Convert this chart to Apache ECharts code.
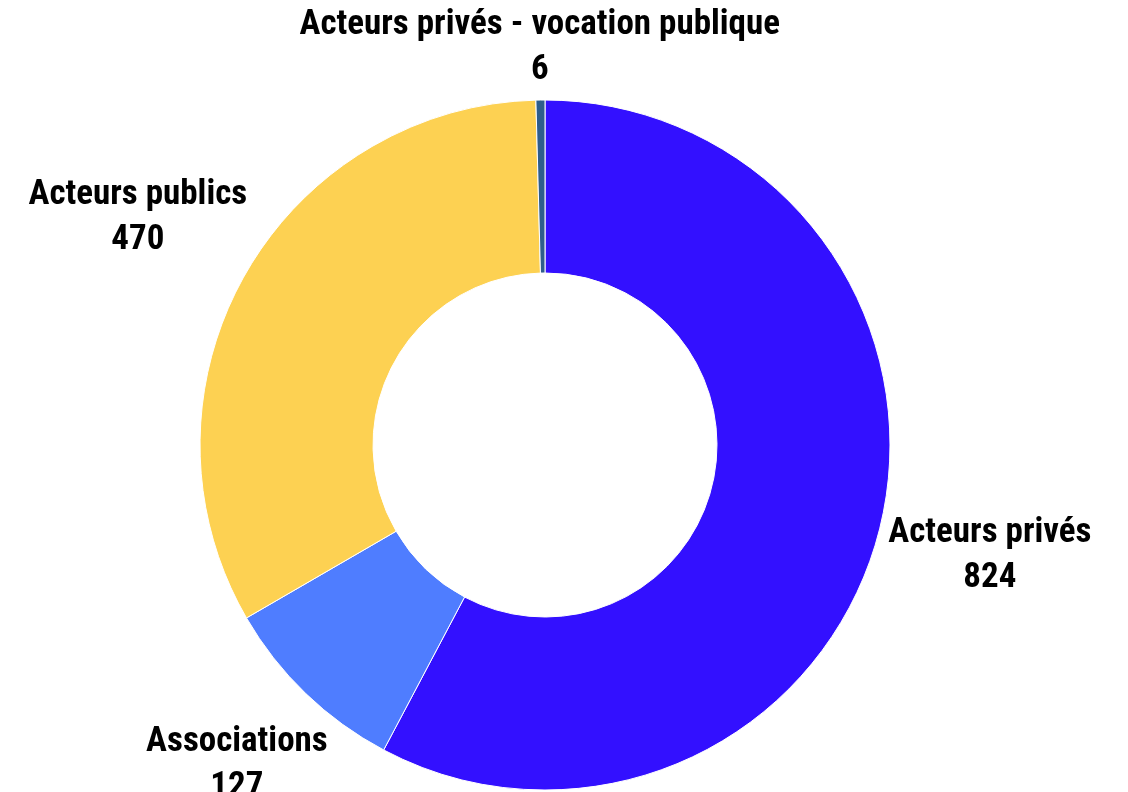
<!DOCTYPE html>
<html>
<head>
<meta charset="utf-8">
<script src="https://cdn.jsdelivr.net/npm/echarts@6/dist/echarts.min.js"></script>
<style>
  html, body { margin: 0; padding: 0; background: #fff; }
  #pie { width: 1128px; height: 792px; }
</style>
</head>
<body>
<div id="pie"></div>
<script>
// données
var categories = ['Acteurs privés', 'Associations', 'Acteurs publics', 'Acteurs privés - vocation publique'];
var values = [824, 127, 470, 6];
var colors = ['#3310ff', '#4f7dff', '#fdd152', '#2e5d8c'];

var cx = 545, cy = 445, rOut = 345, rIn = 172;
var total = values.reduce(function (a, b) { return a + b; }, 0);

// angle milieu de chaque part (depuis le haut, sens horaire)
function midAngle(idx) {
    var before = 0;
    for (var i = 0; i < idx; i++) before += values[i];
    return (before + values[idx] / 2) / total * Math.PI * 2;
}

var dataList = categories.map(function (name, i) {
    return { name: name, value: values[i], itemStyle: { color: colors[i] } };
});

var myChart = echarts.init(document.getElementById('pie'));
var option = {
    animation: false,
    series: [{
        type: 'pie',
        center: [cx, cy],
        radius: [rIn, rOut],
        startAngle: 90,
        clockwise: true,
        itemStyle: { borderColor: '#fff', borderWidth: 1 },
        label: {
            show: true,
            position: 'outside',
            formatter: '{b}\n{c}',
            fontFamily: '"Roboto Condensed", "Liberation Sans Narrow", "DejaVu Sans Condensed", Roboto, sans-serif',
            fontWeight: 'bold',
            fontSize: 35,
            lineHeight: 45,
            color: '#000',
            align: 'center',
            overflow: 'none'
        },
        labelLine: { show: false },
        labelLayout: function (params) {
            var a = midAngle(params.dataIndex);
            var dx = Math.sin(a), dy = -Math.cos(a);
            var w = params.labelRect.width, h = params.labelRect.height;
            var ext = Math.abs(dx) * w / 2 + Math.abs(dy) * h / 2;
            var d = rOut + 4 + ext;
            return {
                x: cx + dx * d,
                y: cy + dy * d,
                align: 'center',
                verticalAlign: 'middle'
            };
        },
        emphasis: { disabled: true },
        data: dataList
    }]
};
myChart.setOption(option);
</script>
</body>
</html>
